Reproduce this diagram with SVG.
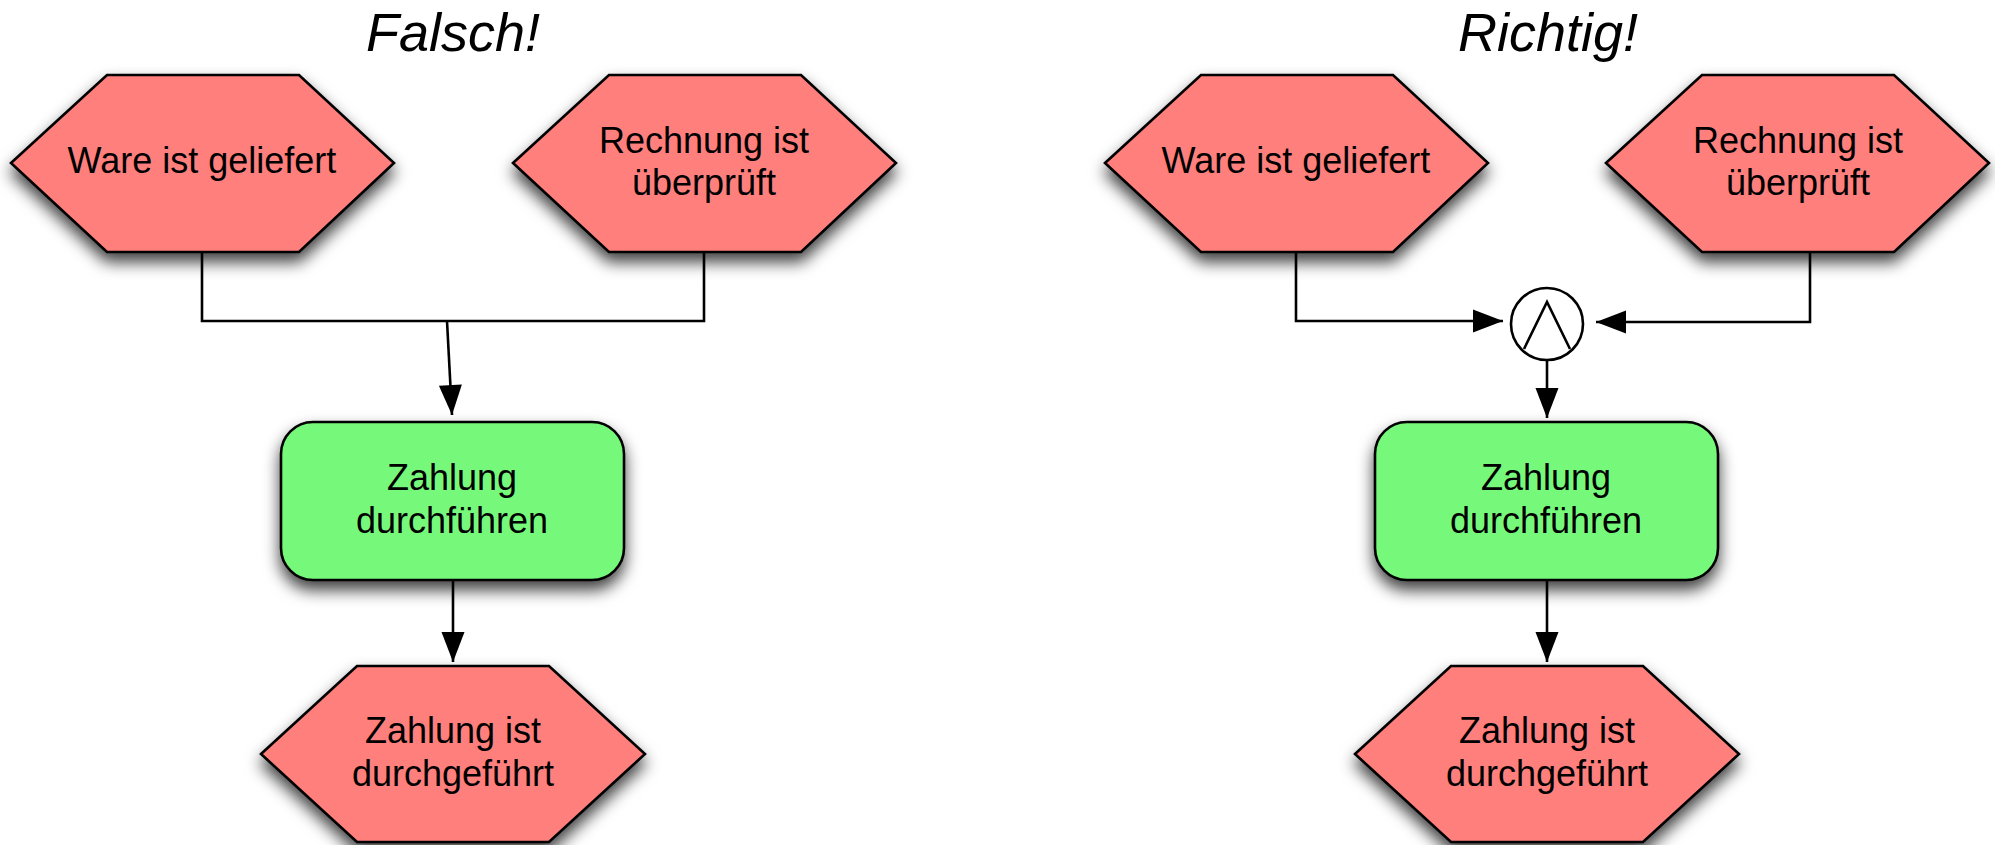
<svg xmlns="http://www.w3.org/2000/svg" width="1995" height="845" viewBox="0 0 1995 845">
<style>
.ev{fill:#ff7f7b;stroke:#000;stroke-width:2.6;stroke-linejoin:miter;filter:url(#sh)}
.fn{fill:#76f97a;stroke:#000;stroke-width:2.6;filter:url(#sh)}
.lbl{font-family:"Liberation Sans",Arial,sans-serif;font-size:36px;fill:#000;text-anchor:middle}
.ttl{font-family:"Liberation Sans",Arial,sans-serif;font-size:54px;font-style:italic;fill:#000;text-anchor:middle}
.cn{fill:none;stroke:#000;stroke-width:2.6}
.ar{fill:none;stroke:#000;stroke-width:2.6;marker-end:url(#ah)}
.op{fill:#fff;stroke:#000;stroke-width:2.6}
</style>
<defs>
<filter id="sh" x="-20%" y="-20%" width="140%" height="160%">
<feDropShadow dx="0" dy="9" stdDeviation="8" flood-color="#000" flood-opacity="0.75"/>
</filter>
<marker id="ah" markerUnits="userSpaceOnUse" markerWidth="31" markerHeight="24" refX="30" refY="11.5" orient="auto" overflow="visible">
<path d="M0,0 L30,11.5 L0,23 Z" fill="#000"/>
</marker>
</defs>

<text class="ttl" x="453" y="51">Falsch!</text>
<text class="ttl" x="1548" y="51">Richtig!</text>

<g id="connectors">
<polyline class="cn" points="202,252 202,321 704,321 704,252"/>
<line class="ar" x1="447" y1="321" x2="452" y2="415"/>
<line class="ar" x1="453" y1="580" x2="453" y2="662"/>
<polyline class="ar" points="1296,252 1296,321 1503,321"/>
<polyline class="ar" points="1810,252 1810,322 1596,322"/>
<line class="ar" x1="1547" y1="361" x2="1547" y2="418"/>
<line class="ar" x1="1547" y1="580" x2="1547" y2="662"/>
</g>

<g id="l-ware">
<polygon class="ev" points="11,163 107,75 299,75 394,163 299,252 107,252"/>
<text class="lbl" x="202" y="173">Ware ist geliefert</text>
</g>
<g id="l-rechnung">
<polygon class="ev" points="513,163 609,75 801,75 896,163 801,252 609,252"/>
<text class="lbl" x="704" y="153">Rechnung ist</text>
<text class="lbl" x="704" y="195">überprüft</text>
</g>
<g id="l-zahlung">
<rect class="fn" x="281" y="422" width="343" height="158" rx="32" ry="32"/>
<text class="lbl" x="452" y="490">Zahlung</text>
<text class="lbl" x="452" y="533">durchführen</text>
</g>
<g id="l-zahlung-ist">
<polygon class="ev" points="261,754 357,666 549,666 645,754 549,842 357,842"/>
<text class="lbl" x="453" y="743">Zahlung ist</text>
<text class="lbl" x="453" y="786">durchgeführt</text>
</g>

<g id="r-ware">
<polygon class="ev" points="1105,163 1201,75 1393,75 1488,163 1393,252 1201,252"/>
<text class="lbl" x="1296" y="173">Ware ist geliefert</text>
</g>
<g id="r-rechnung">
<polygon class="ev" points="1606,163 1702,75 1894,75 1989,163 1894,252 1702,252"/>
<text class="lbl" x="1798" y="153">Rechnung ist</text>
<text class="lbl" x="1798" y="195">überprüft</text>
</g>
<g id="r-and">
<circle class="op" cx="1547" cy="324" r="36"/>
<polyline class="cn" points="1524,349 1547,302 1570,349"/>
</g>
<g id="r-zahlung">
<rect class="fn" x="1375" y="422" width="343" height="158" rx="32" ry="32"/>
<text class="lbl" x="1546" y="490">Zahlung</text>
<text class="lbl" x="1546" y="533">durchführen</text>
</g>
<g id="r-zahlung-ist">
<polygon class="ev" points="1355,754 1451,666 1643,666 1739,754 1643,842 1451,842"/>
<text class="lbl" x="1547" y="743">Zahlung ist</text>
<text class="lbl" x="1547" y="786">durchgeführt</text>
</g>
</svg>
